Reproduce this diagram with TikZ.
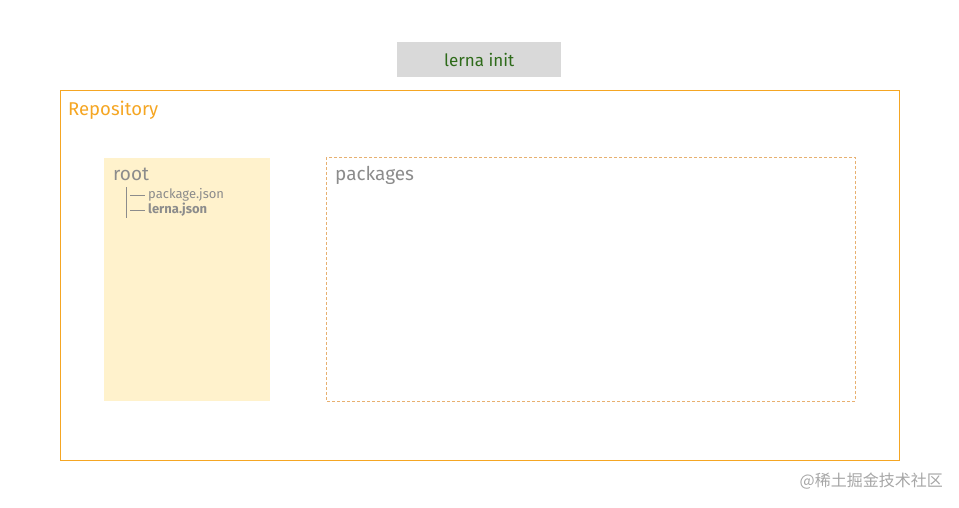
\documentclass[tikz,border=0pt]{standalone}
\usepackage{fontspec}
\setmainfont{Fira Sans}
\newfontfamily\cjk{Noto Sans CJK SC}
\definecolor{orng}{HTML}{F5A623}
\definecolor{txtg}{HTML}{8C8C8C}
\definecolor{grn}{HTML}{2E6B1A}
\definecolor{rootf}{HTML}{FFF2CC}
\definecolor{dashcol}{HTML}{E8B070}
\tikzset{lbl/.style={anchor=west,inner sep=0,text=txtg,font=\fontsize{19}{21}\selectfont},
small/.style={anchor=west,inner sep=0,text=txtg,font=\fontsize{13}{15}\selectfont}}
\begin{document}
\begin{tikzpicture}[x=1pt,y=-1pt]
\useasboundingbox (0,0) rectangle (959,507);
\node[fill=gray!30,minimum width=164,minimum height=35,anchor=north west,inner sep=0,text=grn,font=\fontsize{17}{19}\selectfont] (cmd) at (397,42) {lerna init};
\draw[orng,line width=0.6] (60,90) rectangle (899,460);
\node[anchor=west,inner sep=0,text=orng,font=\fontsize{18.5}{21}\selectfont] (repo) at (68,110) {Repository};
\fill[rootf] (104,158) rectangle (270,401);
\node[lbl] (root) at (113,174) {root};
\draw[txtg,line width=0.5] (126,187) -- (126,218) (130,195) -- (145,195) (130,210) -- (145,210);
\node[small] (pj) at (148,195) {package.json};
\node[small,font=\bfseries\fontsize{13}{15}\selectfont] (lj) at (148,210) {lerna.json};
\draw[dashcol,line width=0.6,dash pattern=on 3pt off 2pt] (326,157) rectangle (855,401);
\node[lbl] (pk) at (335,175) {packages};
\node[anchor=east,inner sep=0,text=gray!70,font=\cjk\fontsize{16}{18}\selectfont] (wm) at (943,481) {@稀土掘金技术社区};
\end{tikzpicture}
\end{document}
